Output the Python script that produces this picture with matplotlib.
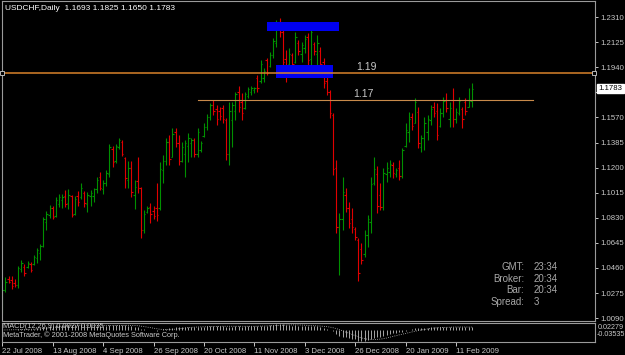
import numpy as np
import pandas as pd
import matplotlib
matplotlib.use("Agg")
import matplotlib.pyplot as plt
import matplotlib.transforms as mtransforms

plt.rcParams['font.family'] = ['Liberation Sans', 'DejaVu Sans']

# daily USDCHF bars, 22 Jul 2008 .. Feb 2009
highs = [1.0320, 1.0394, 1.0401, 1.0401, 1.0379, 1.0475, 1.0519, 1.0489, 1.0511, 1.0504,
         1.0556, 1.0607, 1.0637, 1.0836, 1.0880, 1.0924, 1.0917, 1.0983, 1.1005, 1.1005,
         1.1035, 1.1042, 1.0998, 1.0990, 1.1027, 1.1086, 1.1027, 1.1020, 1.1035, 1.1049,
         1.1131, 1.1167, 1.1108, 1.1182, 1.1374, 1.1359, 1.1374, 1.1418, 1.1403, 1.1278,
         1.1248, 1.1248, 1.1108, 1.1278, 1.1057, 1.0888, 1.0917, 1.0939, 1.0917, 1.1086,
         1.1241, 1.1293, 1.1418, 1.1440, 1.1492, 1.1492, 1.1440, 1.1388, 1.1403, 1.1455,
         1.1418, 1.1418, 1.1492, 1.1396, 1.1529, 1.1595, 1.1676, 1.1698, 1.1661, 1.1646,
         1.1661, 1.1565, 1.1683, 1.1683, 1.1757, 1.1801, 1.1750, 1.1757, 1.1794, 1.1801,
         1.1794, 1.1882, 1.1993, 1.1934, 1.2008, 1.2052, 1.2155, 1.2288, 1.2302, 1.2229,
         1.2067, 1.2081, 1.2044, 1.2199, 1.2140, 1.2125, 1.2177, 1.2192, 1.2251, 1.2125,
         1.2177, 1.2089, 1.2008, 1.1868, 1.1772, 1.1602, 1.1256, 1.0865, 1.1131, 1.1049,
         1.0946, 1.0902, 1.0762, 1.0681, 1.0644, 1.0740, 1.0851, 1.1131, 1.1278, 1.1212,
         1.1086, 1.1197, 1.1241, 1.1256, 1.1241, 1.1197, 1.1256, 1.1344, 1.1529, 1.1610,
         1.1602, 1.1713, 1.1646, 1.1440, 1.1573, 1.1588, 1.1661, 1.1683, 1.1676, 1.1639,
         1.1720, 1.1750, 1.1683, 1.1786, 1.1639, 1.1720, 1.1646, 1.1713, 1.1786, 1.1825]
lows = [1.0128, 1.0283, 1.0349, 1.0305, 1.0320, 1.0312, 1.0430, 1.0401, 1.0460, 1.0430,
        1.0482, 1.0497, 1.0519, 1.0615, 1.0740, 1.0828, 1.0821, 1.0836, 1.0909, 1.0902,
        1.0909, 1.0895, 1.0836, 1.0850, 1.0917, 1.0968, 1.0909, 1.0873, 1.0917, 1.0946,
        1.1013, 1.1035, 1.1005, 1.1064, 1.1131, 1.1204, 1.1234, 1.1337, 1.1285, 1.1049,
        1.1049, 1.0983, 1.0895, 1.1013, 1.0681, 1.0718, 1.0865, 1.0792, 1.0821, 1.0806,
        1.0888, 1.1086, 1.1219, 1.1219, 1.1278, 1.1352, 1.1219, 1.1241, 1.1131, 1.1241,
        1.1278, 1.1278, 1.1278, 1.1315, 1.1425, 1.1477, 1.1551, 1.1588, 1.1514, 1.1551,
        1.1529, 1.1256, 1.1219, 1.1352, 1.1551, 1.1610, 1.1551, 1.1632, 1.1713, 1.1735,
        1.1750, 1.1757, 1.1823, 1.1831, 1.1882, 1.1941, 1.2008, 1.2089, 1.2162, 1.1934,
        1.1831, 1.1934, 1.1934, 1.1971, 1.2030, 1.1978, 1.2044, 1.1934, 1.1956, 1.2030,
        1.1934, 1.1934, 1.1786, 1.1735, 1.1565, 1.1145, 1.0718, 1.0408, 1.0740, 1.0873,
        1.0755, 1.0718, 1.0666, 1.0364, 1.0489, 1.0541, 1.0615, 1.0718, 1.1072, 1.0865,
        1.0888, 1.0888, 1.1094, 1.1131, 1.1123, 1.1131, 1.1109, 1.1123, 1.1352, 1.1389,
        1.1477, 1.1529, 1.1344, 1.1315, 1.1330, 1.1403, 1.1514, 1.1573, 1.1403, 1.1499,
        1.1573, 1.1610, 1.1499, 1.1499, 1.1529, 1.1588, 1.1492, 1.1588, 1.1646, 1.1650]
opens = [1.0150, 1.0300, 1.0380, 1.0370, 1.0350, 1.0335, 1.0455, 1.0470, 1.0465, 1.0490,
         1.0490, 1.0530, 1.0570, 1.0625, 1.0800, 1.0850, 1.0905, 1.0840, 1.0930, 1.0960,
         1.0990, 1.0940, 1.0990, 1.0860, 1.0990, 1.0980, 1.1010, 1.0930, 1.0990, 1.0990,
         1.1040, 1.1130, 1.1040, 1.1090, 1.1150, 1.1340, 1.1250, 1.1350, 1.1390, 1.1270,
         1.1110, 1.1200, 1.1000, 1.1100, 1.1050, 1.0740, 1.0870, 1.0910, 1.0880, 1.0900,
         1.0900, 1.1180, 1.1250, 1.1390, 1.1280, 1.1460, 1.1380, 1.1250, 1.1300, 1.1360,
         1.1380, 1.1400, 1.1300, 1.1330, 1.1430, 1.1500, 1.1570, 1.1660, 1.1630, 1.1620,
         1.1640, 1.1550, 1.1300, 1.1550, 1.1620, 1.1760, 1.1680, 1.1640, 1.1730, 1.1760,
         1.1770, 1.1860, 1.1840, 1.1860, 1.1990, 1.1950, 1.2030, 1.2120, 1.2270, 1.2200,
         1.2000, 1.1960, 1.2030, 1.1980, 1.2120, 1.2040, 1.2080, 1.2160, 1.2000, 1.2110,
         1.2040, 1.2060, 1.1980, 1.1840, 1.1760, 1.1590, 1.1200, 1.0760, 1.0820, 1.1000,
         1.0900, 1.0820, 1.0750, 1.0670, 1.0600, 1.0560, 1.0700, 1.0800, 1.1090, 1.1150,
         1.1000, 1.0910, 1.1150, 1.1170, 1.1220, 1.1150, 1.1200, 1.1140, 1.1360, 1.1460,
         1.1570, 1.1530, 1.1610, 1.1350, 1.1420, 1.1460, 1.1550, 1.1650, 1.1620, 1.1510,
         1.1600, 1.1700, 1.1560, 1.1700, 1.1560, 1.1600, 1.1630, 1.1680, 1.1650, 1.1693]
closes = [1.0300, 1.0360, 1.0360, 1.0330, 1.0335, 1.0460, 1.0500, 1.0420, 1.0495, 1.0445,
          1.0540, 1.0590, 1.0620, 1.0820, 1.0860, 1.0900, 1.0835, 1.0960, 1.0985, 1.0985,
          1.0930, 1.1000, 1.0850, 1.0970, 1.0950, 1.1050, 1.0940, 1.1000, 1.1010, 1.1040,
          1.1110, 1.1050, 1.1090, 1.1160, 1.1350, 1.1240, 1.1360, 1.1400, 1.1300, 1.1120,
          1.1200, 1.1020, 1.1060, 1.1050, 1.0740, 1.0860, 1.0900, 1.0860, 1.0840, 1.0850,
          1.1190, 1.1250, 1.1390, 1.1260, 1.1450, 1.1380, 1.1250, 1.1350, 1.1380, 1.1420,
          1.1400, 1.1300, 1.1460, 1.1380, 1.1500, 1.1570, 1.1660, 1.1620, 1.1560, 1.1580,
          1.1560, 1.1300, 1.1620, 1.1660, 1.1740, 1.1650, 1.1600, 1.1740, 1.1780, 1.1790,
          1.1785, 1.1790, 1.1960, 1.1910, 1.1900, 1.2030, 1.2130, 1.2250, 1.2200, 1.1980,
          1.1900, 1.2040, 1.1960, 1.2160, 1.2060, 1.2100, 1.2150, 1.1990, 1.2200, 1.2060,
          1.2120, 1.1960, 1.1820, 1.1760, 1.1600, 1.1190, 1.0760, 1.0820, 1.1020, 1.0900,
          1.0790, 1.0760, 1.0690, 1.0420, 1.0520, 1.0700, 1.0820, 1.1080, 1.1190, 1.0920,
          1.0910, 1.1160, 1.1200, 1.1230, 1.1160, 1.1180, 1.1140, 1.1330, 1.1480, 1.1560,
          1.1510, 1.1680, 1.1380, 1.1420, 1.1530, 1.1560, 1.1630, 1.1600, 1.1440, 1.1600,
          1.1690, 1.1640, 1.1640, 1.1560, 1.1610, 1.1690, 1.1560, 1.1620, 1.1700, 1.1783]

tick_bars = [0, 16, 32, 48, 64, 80, 96, 112, 128, 144]
tick_dates = ['22 Jul 2008', '13 Aug 2008', '4 Sep 2008', '26 Sep 2008', '20 Oct 2008',
              '11 Nov 2008', '3 Dec 2008', '26 Dec 2008', '20 Jan 2009', '11 Feb 2009']
price_ticks = [1.2310, 1.2125, 1.1940, 1.1755, 1.1570, 1.1385, 1.1200,
               1.1015, 1.0830, 1.0645, 1.0460, 1.0275, 1.0090]

level_high = 1.19
level_low = 1.17
zone_top = (84.1, 106.9, 1.2207, 1.2271)     # bar from, bar to, price lo, price hi
zone_mid = (86.9, 105.1, 1.1858, 1.1956)

W, H = 625, 355
fig = plt.figure(figsize=(W / 100, H / 100), dpi=100, facecolor='black')


def px_box(x0, y0, x1, y1):
    return [x0 / W, 1 - y1 / H, (x1 - x0) / W, (y1 - y0) / H]


ax = fig.add_axes(px_box(2, 1, 595, 320.5))
ind = fig.add_axes(px_box(2, 322.5, 595, 341.5))

n = len(highs)
idx = np.arange(n)
x_left = -0.1
x_right = (595 - 2.3) / 3.15

for a in (ax, ind):
    a.set_facecolor('black')
    for s in a.spines.values():
        s.set_color('#9a9a9a')
        s.set_linewidth(0.8)
    a.set_xlim(x_left, x_right)

# price bars
o = np.array(opens)
c = np.array(closes)
up = c >= o
cols = np.where(up, '#009000', '#e00000')
ax.vlines(idx, lows, highs, colors=cols, linewidth=0.8)
ax.hlines(opens, idx - 0.45, idx, colors=cols, linewidth=0.8)
ax.hlines(closes, idx, idx + 0.45, colors=cols, linewidth=0.8)

ax.set_ylim(1.0073, 1.2428)
ax.yaxis.tick_right()
ax.set_yticks(price_ticks)
ax.set_yticklabels(['%.4f' % p if p != 1.1755 else '' for p in price_ticks])
ax.tick_params(axis='y', colors='#c8c8c8', labelsize=5.6, length=2, width=0.7, pad=2)
ax.set_xticks([])

# blue zones
for z in (zone_top, zone_mid):
    ax.add_patch(plt.Rectangle((z[0], z[2]), z[1] - z[0], z[3] - z[2],
                               facecolor='#0000f0', edgecolor='none', zorder=3))

# horizontal levels
ax.axhline(level_high, color='#d9822b', linewidth=1.1, zorder=4)
ax.plot([0, x_right - 0.3], [level_high, level_high], 's', ms=2.2, mfc='black',
        mec='#d0d0d0', mew=0.6, zorder=5, clip_on=False)
ax.plot([62, 168.5], [level_low, level_low], color='#c88a4a', linewidth=0.8, zorder=4)
ax.text(112.5, level_high + 0.0006, '1.19', color='#c8c8c8', fontsize=7.5, va='bottom', ha='left')
ax.text(111.5, level_low + 0.0006, '1.17', color='#c8c8c8', fontsize=7.5, va='bottom', ha='left')

# current price box
trans = mtransforms.blended_transform_factory(ax.transAxes, ax.transData)
ax.text(1.006, closes[-1], '%.4f' % closes[-1], transform=trans, fontsize=5.6,
        color='black', va='center', ha='left',
        bbox=dict(boxstyle='square,pad=0.15', facecolor='white', edgecolor='white'))

# MACD(12,26,9)
cs = pd.Series(closes)
macd = cs.ewm(span=12, adjust=False).mean() - cs.ewm(span=26, adjust=False).mean()
signal = macd.rolling(9, min_periods=1).mean()
ind.vlines(idx, 0, macd, colors='#c0c0c0', linewidth=0.6)
ind.plot(idx, signal, color='#c0c0c0', linewidth=0.6, linestyle=':')
ind.set_ylim(macd.min() * 1.05, macd.max() * 1.25)
ind.set_yticks([])
ind.set_xticks(tick_bars)
ind.set_xticklabels(tick_dates, ha='left')
ind.tick_params(axis='x', colors='#c8c8c8', labelsize=5.6, length=3, width=0.7, pad=2)

fig.text(3 / W, 1 - 327 / H, 'MACD(12,26,9) 0.0027 0.0035', color='#c8c8c8',
         fontsize=5.3, va='center')
fig.text(3 / W, 1 - 335 / H, 'MetaTrader, \u00a9 2001-2008 MetaQuotes Software Corp.',
         color='#c8c8c8', fontsize=5.3, va='center')
fig.text(598 / W, 1 - 327.5 / H, '0.02279', color='#c8c8c8', fontsize=5.2, va='center')
fig.text(597 / W, 1 - 335 / H, '-0.03535', color='#c8c8c8', fontsize=5.2, va='center')

fig.text(5 / W, 1 - 8 / H, 'USDCHF,Daily  1.1693 1.1825 1.1650 1.1783', color='white',
         fontsize=6, va='center')

info_labels = ['GMT:', 'Broker:', 'Bar:', 'Spread:']
info_values = ['23:34', '20:34', '20:34', '3']
for k, (lab, val) in enumerate(zip(info_labels, info_values)):
    yy = 1 - (267 + k * 11.7) / H
    fig.text(524 / W, yy, lab, color='#a8a8a8', fontsize=7, ha='right', va='center')
    fig.text(534 / W, yy, val, color='#a8a8a8', fontsize=7, ha='left', va='center')

fig.savefig('out.png', dpi=100, facecolor='black')
